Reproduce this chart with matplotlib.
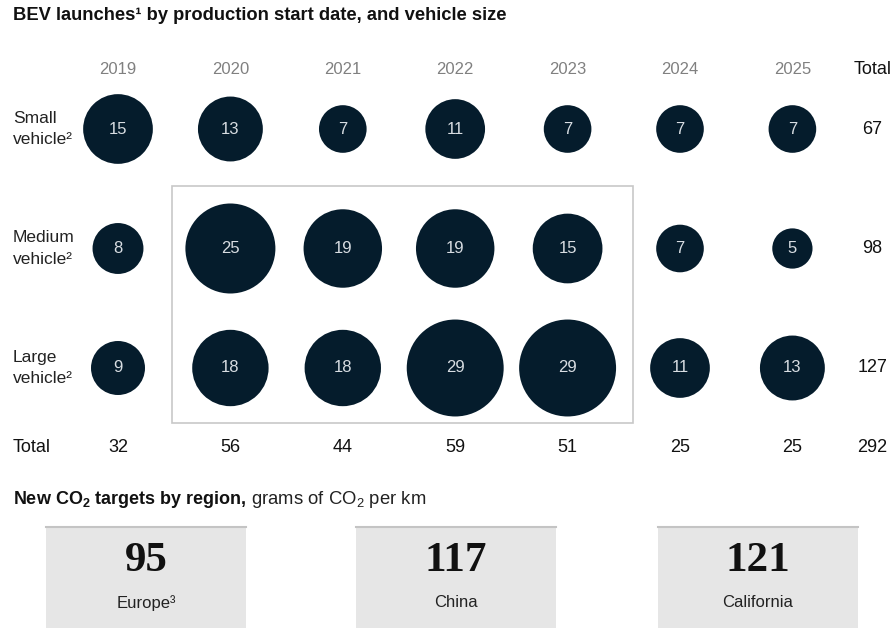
import numpy as np
import matplotlib.pyplot as plt
from matplotlib.patches import Rectangle

plt.rcParams['font.family'] = ['Liberation Sans', 'DejaVu Sans']
plt.rcParams['mathtext.fontset'] = 'custom'
plt.rcParams['mathtext.rm'] = 'Liberation Sans'
plt.rcParams['mathtext.bf'] = 'Liberation Sans:bold'

years = ['2019', '2020', '2021', '2022', '2023', '2024', '2025']
sizes = ['Small\nvehicle²', 'Medium\nvehicle²', 'Large\nvehicle²']
small = [15, 13, 7, 11, 7, 7, 7]
medium = [8, 25, 19, 19, 15, 7, 5]
large = [9, 18, 18, 29, 29, 11, 13]
row_totals = [67, 98, 127]
col_totals = [32, 56, 44, 59, 51, 25, 25]
grand_total = 292

regions = ['Europe³', 'China', 'California']
co2_targets = [95, 117, 121]

navy = '#051c2c'

fig = plt.figure(figsize=(8.96, 6.28), dpi=100)
ax = fig.add_axes([0, 0, 1, 1])
# column / row units -> pixel layout of the reference
ax.set_xlim(-118 / 112.4, (896 - 118) / 112.4)
ax.set_ylim((628 - 129) / 119.5, -129 / 119.5)
ax.axis('off')

lx = -118 / 112.4 + 13 / 112.4
grid = np.array([small, medium, large])
for j, row in enumerate(grid):
    xs = np.arange(len(row))
    ax.scatter(xs, np.full(len(row), j), s=168 * row, color=navy, linewidths=0, zorder=3)
    for i, v in enumerate(row):
        ax.text(i, j, str(v), ha='center', va='center', color='#d8dde2',
                fontsize=12, zorder=4)
    ax.text(lx, j, sizes[j], ha='left', va='center', fontsize=12.5,
            color='#222222', linespacing=1.5)
    ax.text(6.71, j, str(row_totals[j]), ha='center', va='center', fontsize=13,
            color='#111111')

hy = (70 - 129) / 119.5
for i, yr in enumerate(years):
    ax.text(i, hy, yr, ha='center', va='center', fontsize=12, color='#808080')
ax.text(6.71, hy, 'Total', ha='center', va='center', fontsize=13, color='#111111')

ty = (447 - 129) / 119.5
ax.text(lx, ty, 'Total', ha='left', va='center', fontsize=13, color='#111111')
for i, v in enumerate(col_totals):
    ax.text(i, ty, str(v), ha='center', va='center', fontsize=13, color='#111111')
ax.text(6.71, ty, str(grand_total), ha='center', va='center', fontsize=13, color='#111111')

# highlight box around 2020-2023, medium and large
ax.add_patch(Rectangle((0.48, 0.477), 4.1, 1.98, fill=False, edgecolor='#c8c8c8',
                       linewidth=1.2, zorder=1))

fig.text(13 / 896, 1 - 16 / 628, 'BEV launches¹ by production start date, and vehicle size',
         ha='left', va='center', fontsize=13.2, fontweight='bold', color='#111111')

t1 = fig.text(13 / 896, 1 - 499 / 628, r'New CO$_\mathbf{2}$ targets by region,', ha='left',
              va='center', fontsize=13, fontweight='bold', color='#111111')
fig.canvas.draw()
bb = t1.get_window_extent()
fig.text(bb.x1 / 896 + 4 / 896, 1 - 499 / 628, r'grams of CO$_\mathrm{2}$ per km', ha='left',
         va='center', fontsize=13.3, color='#222222')

box_left = [46, 356, 658]
for k in range(3):
    bax = fig.add_axes([box_left[k] / 896, 0, 200 / 896, 101 / 628])
    bax.set_facecolor('#e6e6e6')
    bax.set_xticks([])
    bax.set_yticks([])
    for s in ['left', 'right', 'bottom']:
        bax.spines[s].set_visible(False)
    bax.spines['top'].set_color('#c4c4c4')
    bax.spines['top'].set_linewidth(1.5)
    bax.text(0.5, 0.66, str(co2_targets[k]), transform=bax.transAxes, ha='center',
             va='center', fontsize=31, fontweight='bold', family='Liberation Serif',
             color='#111111')
    bax.text(0.5, 0.25, regions[k], transform=bax.transAxes, ha='center', va='center',
             fontsize=12, color='#222222')

fig.savefig('out.png', dpi=100)
